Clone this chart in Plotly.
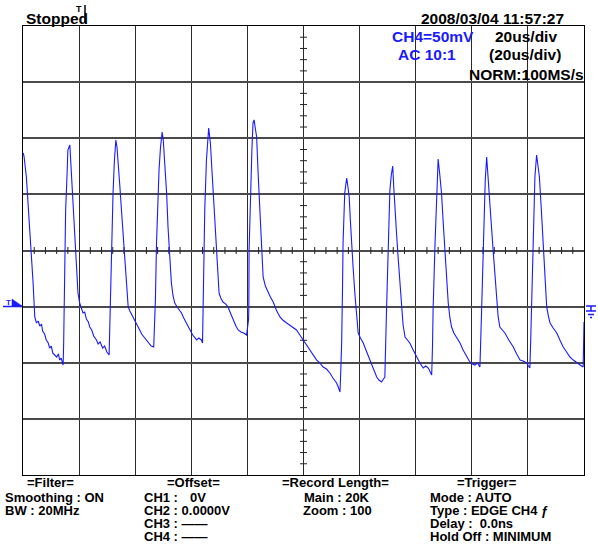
import numpy as np
import plotly.graph_objects as go

# CH4, 20 us/div, 50 mV/div ; time in microseconds, voltage in millivolts
time_us = [
    -99.9, -99.6, -98.8, -98.1, -97.6, -97.1, -96.4, -95.8, -95.2, -94.6, -94.0, -93.4, -93.0,
    -92.3, -91.7, -91.0, -90.5, -89.9, -89.4, -88.7, -88.0, -87.4, -86.9, -86.4, -85.7,
    -85.5, -85.1, -84.8, -84.3, -84.0, -83.3,
    -82.9, -82.7, -82.2, -81.6, -81.0, -80.4, -79.8, -79.2, -78.6, -78.0, -77.4, -76.7, -76.2,
    -75.5, -74.8, -73.8, -73.2, -72.5, -71.6, -70.9, -70.1, -69.3,
    -69.1, -68.7, -68.3, -67.9, -67.4, -66.9,
    -66.5, -66.1, -65.5, -64.9, -64.3, -63.7, -63.1, -62.5, -61.9, -61.3, -60.8, -60.2, -59.4,
    -58.4, -57.7, -56.9, -56.0, -55.2, -54.3, -53.4,
    -52.8, -52.4, -52.0, -51.5, -51.0, -50.4,
    -50.0, -49.5, -48.8, -48.3, -47.7, -47.1, -46.5, -45.9, -44.8, -43.5, -42.7, -41.6, -40.5,
    -39.5, -38.1, -37.3, -36.4, -36.0,
    -35.8, -35.5, -35.2, -34.6, -34.1, -33.8,
    -33.2, -32.7, -32.2, -31.6, -31.0, -30.6, -30.1, -29.5, -28.7, -27.7, -26.9, -25.9, -25.1,
    -24.1, -23.3, -22.3, -21.3, -20.3,
    -19.6, -19.5, -19.4, -19.1, -18.8, -18.4, -18.0, -17.6,
    -17.2, -16.7, -16.2, -15.6, -15.0, -14.4, -13.6, -12.6, -11.8, -10.8, -9.7, -8.4, -7.4,
    -6.0, -4.9, -3.8, -2.5, -1.3, -0.1, 1.0, 2.3, 3.3, 4.7, 5.8, 7.0, 8.2, 9.4, 10.5, 11.8,
    12.4, 13.0,
    13.3, 13.6, 13.9, 14.1, 14.7, 15.4,
    15.8, 16.3, 16.7, 17.1, 17.7, 18.3, 18.9, 19.5, 20.3, 21.3, 22.4, 23.7, 24.8, 26.1, 26.9,
    27.8, 28.5, 29.0,
    29.6, 30.2, 30.8, 31.3, 31.8,
    32.2, 32.6, 33.2, 33.8, 34.4, 35.0, 35.5, 36.2, 37.0, 37.9, 39.1, 40.3, 41.5, 42.7, 43.6,
    44.5, 45.1, 45.7,
    46.0, 46.2, 46.9, 47.5, 48.0,
    48.6, 49.2, 49.8, 50.4, 51.0, 51.6, 52.2, 52.8, 53.6, 54.6, 55.8, 56.9, 58.1, 59.3, 60.2,
    61.1, 62.0, 62.9,
    63.5, 63.9, 64.3, 64.8, 65.3,
    65.8, 66.2, 66.9, 67.6, 68.3, 68.9, 69.4, 70.0, 70.9, 71.8, 73.2, 74.8, 76.0, 77.2, 78.3,
    79.6, 80.2, 80.7,
    81.0, 81.3, 81.9, 82.5, 83.1,
    83.6, 84.1, 84.8, 85.5, 86.1, 86.7, 87.3, 87.9, 89.0, 90.3, 91.4, 92.6, 93.8, 95.0, 96.2,
    97.4, 98.6, 99.7, 100.0,
]
ch4_mv = [
    86.9, 83.3, 65.5, 40.5, 20.9, -4.0, -29.0, -59.2, -64.6, -62.8, -67.3, -65.5, -71.7,
    -74.4, -79.7, -82.4, -86.9, -85.1, -91.3, -93.1, -94.9, -92.2, -97.6, -95.8, -102.0,
    -82.4, -26.3, 36.1, 67.3, 89.5, 94.0,
    76.2, 65.5, 45.0, 20.9, -12.9, -37.9, -46.8, -51.2, -55.7, -54.8, -61.0, -63.7, -68.2,
    -70.8, -76.2, -79.7, -83.3, -81.5, -86.9, -85.1, -90.4, -93.1,
    -70.8, -11.1, 22.7, 51.2, 80.6, 98.4,
    92.2, 80.6, 58.4, 36.1, 13.8, -8.5, -30.7, -50.3, -53.9, -56.6, -59.2, -61.9, -66.4,
    -70.8, -74.4, -77.1, -79.7, -82.4, -85.1, -86.0,
    -44.1, 6.7, 40.5, 71.7, 91.3, 105.6,
    98.4, 80.6, 51.2, 20.9, -4.0, -29.0, -40.5, -46.8, -51.2, -55.7, -60.1, -65.5, -70.8,
    -75.3, -79.7, -78.0, -79.7, -82.4,
    -53.0, -8.5, 36.1, 80.6, 98.4, 109.1,
    95.8, 73.5, 51.2, 29.0, 6.7, -15.6, -37.9, -42.3, -45.9, -47.7, -50.3, -56.6, -61.9,
    -67.3, -70.8, -72.6, -73.5, -75.3,
    -61.9, -53.0, 0.4, 33.4, 65.5, 89.5, 113.6, 116.3,
    109.1, 101.1, 69.9, 36.1, 4.9, -23.6, -31.6, -37.9, -41.4, -45.9, -53.0, -59.2, -61.9,
    -64.6, -66.4, -68.2, -70.8, -75.3, -79.7, -84.2, -88.6, -92.2, -97.6, -100.2, -103.8,
    -105.6, -109.1, -113.6, -118.0, -121.6, -126.1,
    -106.5, -82.4, -35.2, 6.7, 51.2, 64.6,
    57.5, 47.7, 27.2, 6.7, -15.6, -37.9, -57.5, -73.5, -78.0, -82.4, -89.5, -97.6, -104.7,
    -112.7, -115.4, -117.1, -114.5, -112.7,
    -53.0, 6.7, 53.9, 67.3, 75.3,
    55.7, 36.1, 13.8, -8.5, -30.7, -53.0, -66.4, -77.1, -79.7, -82.4, -88.6, -94.9, -100.2,
    -104.7, -102.9, -104.7, -108.2, -110.9,
    -84.2, -53.0, 6.7, 51.2, 81.5,
    67.3, 51.2, 25.4, 0.4, -23.6, -46.8, -60.1, -68.2, -73.5, -77.1, -82.4, -88.6, -94.0,
    -99.3, -101.1, -102.0, -100.2, -103.8,
    -53.0, -8.5, 36.1, 62.8, 83.3,
    67.3, 51.2, 25.4, 0.4, -23.6, -46.8, -59.2, -68.2, -70.8, -73.5, -79.7, -86.0, -92.2,
    -97.6, -98.4, -100.2, -102.9, -104.7,
    -79.7, -53.0, 6.7, 65.5, 85.1,
    76.2, 65.5, 36.1, 6.7, -21.8, -50.3, -58.4, -64.6, -69.0, -73.5, -79.7, -86.0, -90.4,
    -94.9, -97.6, -100.2, -102.0, -103.8, -63.7,
]

# screen settings
time_range = [-100, 100]      # 10 div x 20 us
volt_range = [-200, 200]      # 8 div x 50 mV
time_div = 20
volt_div = 50

header_left = "Stopped"
header_right = "2008/03/04 11:57:27"
ch_lines = ["CH4=50mV", "AC 10:1"]
tb_lines = ["20us/div", "(20us/div)", "NORM:100MS/s"]
filter_lines = ["=Filter=", "Smoothing : ON", "BW : 20MHz"]
offset_lines = ["=Offset=", "CH1 :", "CH2 : 0.0000V", "CH3 : \u2014\u2014", "CH4 : \u2014\u2014"]
record_lines = ["=Record Length=", "Main : 20K", "Zoom : 100"]
trigger_lines = ["=Trigger=", "Mode : AUTO", "Type : EDGE CH4 \u0192", "Delay :  0.0ns",
                 "Hold Off : MINIMUM"]

# ---------------- layout geometry ----------------
W, H = 598, 544
ML, MR, MT, MB = 23, 14, 26, 69
PW, PH = W - ML - MR, H - MT - MB
BLUE = "#1a1aff"
FONT = "Liberation Sans, Arial, sans-serif"


def px(x):
    return (x - ML) / PW


def py(y):
    return (H - MB - y) / PH


fig = go.Figure()

# centre-axis minor ticks (5 per division)
minor_t = [t for t in np.arange(time_range[0], time_range[1] + 0.1, time_div / 5)
           if abs(t % time_div) > 1e-6 and abs(t % time_div - time_div) > 1e-6]
minor_v = [v for v in np.arange(volt_range[0], volt_range[1] + 0.1, volt_div / 5)
           if abs(v % volt_div) > 1e-6 and abs(v % volt_div - volt_div) > 1e-6]
fig.add_trace(go.Scatter(x=minor_t, y=[0] * len(minor_t), mode="markers",
                         marker=dict(symbol="line-ns-open", size=5, color="#222",
                                     line=dict(color="#222", width=1)),
                         hoverinfo="skip", showlegend=False))
fig.add_trace(go.Scatter(x=[0] * len(minor_v), y=minor_v, mode="markers",
                         marker=dict(symbol="line-ew-open", size=5, color="#222",
                                     line=dict(color="#222", width=1)),
                         hoverinfo="skip", showlegend=False))

fig.add_trace(go.Scatter(x=time_us, y=ch4_mv, mode="lines",
                         line=dict(color=BLUE, width=1.1), showlegend=False,
                         cliponaxis=True))

fig.update_xaxes(range=time_range, dtick=time_div, tick0=0, showticklabels=False,
                 ticks="", showgrid=True, gridcolor="#2a2a2a", gridwidth=1,
                 zeroline=False, showline=True, linecolor="black", linewidth=1.2,
                 mirror=True, fixedrange=True)
fig.update_yaxes(range=volt_range, dtick=volt_div, tick0=0, showticklabels=False,
                 ticks="", showgrid=True, gridcolor="#4a4a4a", gridwidth=1.6,
                 zeroline=False, showline=True, linecolor="black", linewidth=1.2,
                 mirror=True, fixedrange=True)


def label(x, y, text, color="black", size=14, anchor="left"):
    fig.add_annotation(x=px(x), y=py(y), xref="paper", yref="paper", text="<b>" + text + "</b>",
                       showarrow=False, xanchor=anchor, yanchor="middle",
                       font=dict(family=FONT, size=size, color=color))


label(24, 18, header_left, size=15.5)
label(566, 18, header_right, size=15.5, anchor="right")
label(390, 36, ch_lines[0], BLUE, size=15.5)
label(396, 55, ch_lines[1], BLUE, size=15.5)
label(559, 36, tb_lines[0], size=15.5, anchor="right")
label(563, 55, tb_lines[1], size=15.5, anchor="right")
label(586, 74, tb_lines[2], size=15.5, anchor="right")

rows = [483, 497, 510, 523.5, 536.5]
label(25, rows[0], filter_lines[0], size=13)
label(3, rows[1], filter_lines[1], size=13)
label(3, rows[2], filter_lines[2], size=13)
label(165, rows[0], offset_lines[0], size=13)
label(142, rows[1], offset_lines[1], size=13)
label(208, rows[1], "0V", size=13, anchor="right")
for i in range(2, 5):
    label(142, rows[i], offset_lines[i], size=13)
label(280, rows[0], record_lines[0], size=13)
label(302, rows[1], record_lines[1], size=13)
label(301, rows[2], record_lines[2], size=13)
label(455, rows[0], trigger_lines[0], size=13)
for i in range(1, 5):
    label(428, rows[i], trigger_lines[i], size=13)

# trigger position marker (top)
label(74, 9, "T", size=9)
fig.add_shape(type="line", xref="paper", yref="paper", x0=px(85), x1=px(85), y0=py(5),
              y1=py(23), line=dict(color="black", width=1.5))
# trigger level marker (left)
fig.add_shape(type="line", xref="paper", yref="paper", x0=px(3), x1=px(22), y0=py(306.5),
              y1=py(306.5), line=dict(color=BLUE, width=1.5))
label(3.5, 302, "T", BLUE, size=8)
fig.add_shape(type="path", xref="paper", yref="paper",
              path=f"M {px(12)} {py(299)} L {px(22)} {py(306)} L {px(12)} {py(306)} Z",
              fillcolor=BLUE, line=dict(color=BLUE, width=0.5))
# ground marker (right)
for (a, b, yy) in [(586, 596, 306), (586, 596, 311), (588, 594, 314.5), (590, 592, 317.5)]:
    fig.add_shape(type="line", xref="paper", yref="paper", x0=px(a), x1=px(b), y0=py(yy),
                  y1=py(yy), line=dict(color=BLUE, width=1.5))
fig.add_shape(type="line", xref="paper", yref="paper", x0=px(591), x1=px(591), y0=py(306),
              y1=py(311), line=dict(color=BLUE, width=1.5))

fig.update_layout(width=W, height=H, margin=dict(l=ML, r=MR, t=MT, b=MB),
                  plot_bgcolor="white", paper_bgcolor="white", showlegend=False)

fig.write_html("out.html", config={"displayModeBar": False},
               post_script="document.body.style.margin='0';document.body.style.overflow='hidden';")
